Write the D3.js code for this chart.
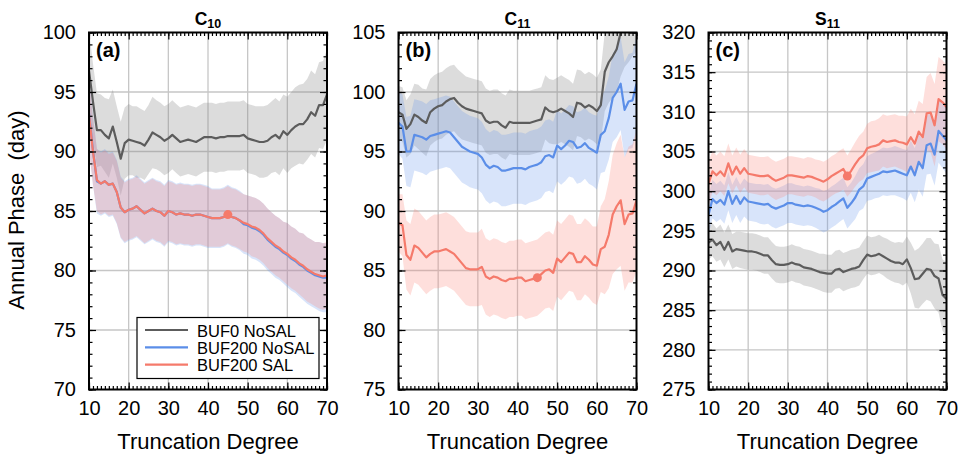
<!DOCTYPE html>
<html>
<head>
<meta charset="utf-8">
<script src="https://cdn.jsdelivr.net/npm/d3@7"></script>
<style>
body { margin: 0; background: #fff; }
text { font-family: "Liberation Sans", Arial, sans-serif; }
</style>
</head>
<body>
<svg id="chart" width="962" height="459"></svg>
<script>
// truncation degrees 10..70
var degrees = d3.range(10, 71);
var xTicks = [10, 20, 30, 40, 50, 60, 70];

// C10 panel
var c10Gray = [96.8, 94.2, 91.8, 91.8, 91.4, 91.1, 92.1, 90.8, 89.4, 90.7,
    91.0, 90.9, 90.8, 90.7, 90.5, 91.0, 91.6, 91.4, 91.2, 90.9,
    91.1, 91.4, 91.1, 90.8, 90.9, 91.0, 90.9, 90.8, 91.0, 91.2,
    91.2, 91.2, 91.1, 91.2, 91.2, 91.3, 91.3, 91.3, 91.3, 91.4,
    91.1, 91.0, 90.9, 90.8, 90.8, 90.9, 91.2, 91.4, 91.1, 91.7,
    91.4, 91.8, 92.1, 92.3, 92.3, 92.7, 93.3, 93.0, 93.9, 93.9, 94.8];
var c10GraySd = [3.4, 3.2, 3.1, 3.0, 3.1, 3.3, 3.1, 3.0, 3.1, 3.0,
    3.0, 2.9, 3.0, 2.9, 2.9, 2.9, 3.0, 2.9, 2.9, 2.9,
    2.9, 2.9, 2.9, 2.9, 2.9, 2.9, 2.9, 2.9, 2.9, 2.9,
    2.9, 2.9, 2.9, 2.9, 2.9, 2.9, 2.9, 2.9, 2.9, 2.9,
    2.9, 2.9, 2.9, 3.0, 3.0, 3.0, 3.0, 3.1, 3.1, 3.1,
    3.2, 3.2, 3.3, 3.3, 3.4, 3.4, 3.5, 3.5, 3.6, 3.7, 3.8];
var c10Blue = [93.2, 90.1, 87.5, 87.3, 87.5, 87.2, 87.3, 86.6, 85.3, 84.9,
    85.1, 85.2, 85.4, 85.1, 84.8, 85.0, 85.2, 85.0, 84.9, 84.6,
    85.0, 84.9, 84.7, 84.8, 84.7, 84.7, 84.6, 84.7, 84.7, 84.6,
    84.5, 84.4, 84.4, 84.4, 84.5, 84.7, 84.5, 84.4, 84.2, 83.9,
    83.8, 83.6, 83.5, 83.3, 83.0, 82.6, 82.3, 82.0, 81.8, 81.5,
    81.3, 81.0, 80.8, 80.5, 80.3, 80.0, 79.8, 79.6, 79.5, 79.4, 79.4];
var c10BlueSd = [3.1, 2.9, 2.7, 2.7, 2.7, 2.7, 2.7, 2.7, 2.6, 2.6,
    2.6, 2.6, 2.6, 2.6, 2.6, 2.6, 2.6, 2.6, 2.6, 2.6,
    2.6, 2.6, 2.6, 2.6, 2.6, 2.6, 2.6, 2.6, 2.6, 2.6,
    2.6, 2.5, 2.5, 2.5, 2.5, 2.5, 2.5, 2.5, 2.5, 2.5,
    2.5, 2.6, 2.6, 2.6, 2.6, 2.6, 2.6, 2.6, 2.6, 2.6,
    2.7, 2.7, 2.7, 2.7, 2.8, 2.8, 2.8, 2.8, 2.9, 2.9, 2.9];
var c10Red = [93.1, 90.0, 87.6, 87.3, 87.5, 87.2, 87.3, 86.6, 85.3, 84.9,
    85.1, 85.2, 85.4, 85.1, 84.8, 85.0, 85.2, 85.0, 84.9, 84.6,
    85.0, 84.9, 84.7, 84.8, 84.7, 84.7, 84.6, 84.7, 84.7, 84.6,
    84.5, 84.4, 84.4, 84.4, 84.5, 84.7, 84.5, 84.4, 84.2, 84.0,
    83.9, 83.7, 83.6, 83.4, 83.1, 82.7, 82.4, 82.1, 81.9, 81.6,
    81.4, 81.1, 80.9, 80.6, 80.4, 80.1, 79.9, 79.7, 79.6, 79.5, 79.6];
var c10RedSd = [3.0, 2.8, 2.6, 2.6, 2.6, 2.6, 2.6, 2.6, 2.5, 2.5,
    2.5, 2.5, 2.5, 2.5, 2.5, 2.5, 2.5, 2.5, 2.5, 2.5,
    2.5, 2.5, 2.5, 2.5, 2.5, 2.5, 2.5, 2.5, 2.5, 2.5,
    2.5, 2.4, 2.4, 2.4, 2.4, 2.4, 2.4, 2.4, 2.4, 2.4,
    2.4, 2.5, 2.5, 2.5, 2.5, 2.5, 2.5, 2.5, 2.5, 2.5,
    2.6, 2.6, 2.6, 2.6, 2.7, 2.7, 2.7, 2.7, 2.8, 2.8, 2.8];

// C11 panel
var c11Gray = [98.3, 98.1, 96.9, 97.3, 98.1, 97.9, 97.6, 97.4, 98.3, 98.6,
    98.8, 98.9, 99.2, 99.4, 99.5, 99.1, 98.8, 98.6, 98.5, 98.4,
    98.3, 98.2, 97.6, 97.4, 97.5, 97.5, 97.2, 97.0, 97.5, 97.4,
    97.4, 97.4, 97.4, 97.4, 97.5, 97.6, 97.7, 98.7, 98.4, 98.3,
    98.4, 98.6, 98.4, 98.2, 97.9, 99.1, 99.0, 98.7, 98.9, 98.7,
    98.4, 98.9, 101.7, 102.5, 103.0, 103.6, 105.0, 105.8, 106.3, 106.8, 107.2];
var c11GraySd = [2.2, 2.3, 2.4, 2.5, 2.6, 2.7, 2.7, 2.8, 2.8, 2.8,
    2.8, 2.8, 2.8, 2.8, 2.8, 2.8, 2.8, 2.7, 2.7, 2.7,
    2.7, 2.7, 2.7, 2.7, 2.7, 2.7, 2.7, 2.7, 2.7, 2.7,
    2.7, 2.7, 2.7, 2.7, 2.7, 2.7, 2.7, 2.7, 2.7, 2.7,
    2.8, 2.8, 2.8, 2.8, 2.8, 2.8, 2.8, 2.8, 2.8, 2.8,
    2.8, 3.0, 3.3, 3.4, 3.5, 3.6, 3.7, 3.7, 3.8, 3.8, 3.8];
var c11Blue = [97.4, 97.1, 95.0, 95.0, 96.4, 96.3, 96.2, 96.0, 96.3, 96.4,
    96.5, 96.6, 96.7, 96.6, 96.2, 95.8, 95.4, 95.2, 95.0, 94.9,
    94.8, 94.5, 93.9, 93.6, 93.8, 93.7, 93.4, 93.4, 93.5, 93.6,
    93.6, 93.6, 93.5, 93.7, 93.8, 93.9, 94.1, 94.6, 94.7, 94.5,
    95.5, 95.2, 95.5, 95.9, 95.8, 95.3, 95.4, 95.7, 95.3, 95.1,
    94.9, 96.4, 96.7, 97.8, 99.5, 100.0, 100.7, 98.5, 99.2, 99.3, 100.7];
var c11BlueSd = [2.6, 2.7, 2.9, 3.0, 3.0, 3.0, 3.0, 3.0, 3.0, 3.0,
    3.0, 3.0, 3.0, 3.0, 3.0, 3.0, 3.0, 3.0, 3.0, 3.0,
    3.0, 3.0, 3.0, 3.0, 3.0, 3.0, 3.0, 3.0, 3.0, 3.0,
    3.0, 3.0, 3.0, 3.0, 3.0, 3.0, 3.0, 3.0, 3.0, 3.0,
    3.0, 3.0, 3.0, 3.0, 3.0, 3.0, 3.0, 3.0, 3.0, 3.0,
    3.1, 3.2, 3.4, 3.5, 3.7, 3.8, 3.9, 4.0, 4.0, 4.0, 4.0];
var c11Red = [89.0, 88.8, 86.3, 85.9, 87.1, 86.9, 86.5, 86.1, 86.4, 86.6,
    86.6, 86.7, 86.8, 86.6, 86.4, 86.0, 85.6, 85.2, 85.1, 85.1,
    85.1, 85.3, 84.5, 84.3, 84.5, 84.4, 84.2, 84.1, 84.3, 84.3,
    84.4, 84.4, 84.1, 84.2, 84.3, 84.4, 84.7, 85.0, 85.1, 84.8,
    86.0, 85.7, 86.1, 86.5, 86.4, 85.7, 85.7, 86.2, 85.9, 85.5,
    85.4, 86.8, 87.0, 88.0, 89.7, 90.4, 90.9, 88.9, 89.7, 89.8, 90.9];
var c11RedSd = [2.4, 2.6, 2.9, 3.0, 3.1, 3.1, 3.1, 3.1, 3.1, 3.1,
    3.1, 3.1, 3.1, 3.1, 3.1, 3.1, 3.1, 3.1, 3.1, 3.1,
    3.1, 3.2, 3.2, 3.2, 3.2, 3.2, 3.2, 3.2, 3.2, 3.2,
    3.2, 3.2, 3.2, 3.2, 3.2, 3.2, 3.2, 3.2, 3.2, 3.2,
    3.2, 3.2, 3.2, 3.2, 3.2, 3.2, 3.2, 3.2, 3.2, 3.2,
    3.3, 3.6, 4.0, 4.5, 5.0, 5.3, 5.5, 5.6, 5.7, 5.8, 5.9];

// S11 panel
var s11Gray = [293.5, 293.9, 293.2, 293.6, 292.6, 293.6, 292.4, 292.7, 292.6, 292.5,
    292.4, 292.4, 292.3, 292.1, 291.9, 291.9, 291.3, 290.8, 290.7, 290.7,
    290.8, 291.0, 290.8, 290.7, 290.4, 290.3, 290.2, 290.0, 289.8, 289.7,
    289.6, 289.6, 290.1, 290.2, 289.8, 290.0, 290.2, 290.3, 290.5, 291.3,
    292.0, 291.8, 291.9, 292.1, 291.8, 291.5, 291.2, 291.0, 291.0, 290.8,
    291.4, 290.3, 288.9, 289.0, 289.6, 290.2, 290.1, 289.3, 289.0, 286.9, 286.4];
var s11GraySd = [2.1, 2.1, 2.1, 2.2, 2.2, 2.2, 2.2, 2.2, 2.3, 2.3,
    2.3, 2.3, 2.3, 2.3, 2.3, 2.3, 2.3, 2.3, 2.3, 2.3,
    2.3, 2.3, 2.3, 2.3, 2.3, 2.3, 2.3, 2.3, 2.3, 2.4,
    2.4, 2.4, 2.4, 2.4, 2.4, 2.4, 2.4, 2.4, 2.4, 2.4,
    2.4, 2.4, 2.4, 2.4, 2.4, 2.5, 2.5, 2.5, 2.6, 2.7,
    2.9, 3.2, 3.6, 3.8, 3.8, 3.9, 4.0, 4.1, 4.3, 4.5, 4.7];
var s11Blue = [297.0, 299.0, 298.5, 298.9, 298.3, 300.0, 298.4, 299.4, 298.4, 299.2,
    298.7, 298.6, 298.5, 298.4, 298.3, 298.4, 298.0, 297.8, 298.0, 298.2,
    298.5, 298.5, 298.3, 298.2, 298.1, 298.2, 298.1, 297.9, 297.7, 297.4,
    297.6, 298.0, 298.3, 298.7, 299.1, 297.9, 298.5, 299.2, 300.2, 300.6,
    301.6, 301.8, 302.0, 302.2, 302.5, 302.4, 302.5, 302.6, 302.4, 302.2,
    302.0, 303.1, 302.0, 303.7, 302.9, 305.8, 306.0, 304.6, 307.6, 307.0, 306.4];
var s11BlueSd = [2.5, 2.4, 2.4, 2.4, 2.4, 2.4, 2.4, 2.4, 2.4, 2.4,
    2.4, 2.4, 2.4, 2.5, 2.5, 2.5, 2.5, 2.5, 2.5, 2.5,
    2.5, 2.5, 2.5, 2.5, 2.5, 2.5, 2.5, 2.5, 2.6, 2.6,
    2.6, 2.6, 2.6, 2.6, 2.6, 2.6, 2.6, 2.7, 2.7, 2.8,
    2.8, 2.9, 2.9, 3.0, 3.0, 3.0, 3.0, 3.1, 3.1, 3.1,
    3.2, 3.3, 3.4, 3.5, 3.6, 3.7, 3.8, 3.9, 4.0, 4.1, 4.2];
var s11Red = [300.9, 302.5, 302.0, 302.5, 301.9, 303.5, 302.1, 303.1, 302.2, 302.9,
    302.2, 302.1, 302.0, 301.9, 301.9, 302.0, 301.6, 301.3, 301.5, 301.7,
    302.0, 302.0, 301.9, 301.8, 301.7, 301.9, 301.8, 301.6, 301.4, 301.2,
    301.5, 301.9, 302.2, 302.5, 302.8, 301.9, 302.6, 303.4, 304.1, 304.5,
    305.4, 305.6, 305.7, 305.9, 306.4, 306.2, 306.3, 306.4, 306.2, 306.1,
    305.9, 306.8, 306.0, 307.5, 306.8, 309.8, 309.9, 308.3, 311.6, 311.2, 310.6];
var s11RedSd = [2.8, 2.6, 2.5, 2.5, 2.5, 2.5, 2.4, 2.4, 2.4, 2.4,
    2.4, 2.4, 2.4, 2.4, 2.4, 2.4, 2.4, 2.4, 2.4, 2.4,
    2.4, 2.4, 2.4, 2.4, 2.4, 2.4, 2.4, 2.4, 2.5, 2.5,
    2.5, 2.5, 2.5, 2.6, 2.6, 2.6, 2.7, 2.8, 2.9, 3.0,
    3.1, 3.2, 3.2, 3.3, 3.3, 3.3, 3.3, 3.3, 3.3, 3.4,
    3.5, 3.6, 3.7, 3.9, 4.2, 4.6, 5.0, 5.2, 5.3, 5.3, 5.3];

var markDegree = 45;
var legendNames = ["BUF0 NoSAL", "BUF200 NoSAL", "BUF200 SAL"];

var colGray = "#5c5c5c", colBlue = "#5b8ee8", colRed = "#f57a6b";
var bandGray = "rgba(128,128,128,0.28)",
    bandBlue = "rgba(100,149,237,0.25)",
    bandRed = "rgba(250,128,114,0.25)";

var plotTop = 32.5, width = 238, height = 357;

var panels = [
    {label: "(a)", name: "C", sub: "10", left: 89, domain: [70, 100], yTicks: [70, 75, 80, 85, 90, 95, 100],
        series: [[c10Gray, c10GraySd], [c10Blue, c10BlueSd], [c10Red, c10RedSd]], legend: true},
    {label: "(b)", name: "C", sub: "11", left: 398.5, domain: [75, 105], yTicks: [75, 80, 85, 90, 95, 100, 105],
        series: [[c11Gray, c11GraySd], [c11Blue, c11BlueSd], [c11Red, c11RedSd]], legend: false},
    {label: "(c)", name: "S", sub: "11", left: 708.5, domain: [275, 320], yTicks: [275, 280, 285, 290, 295, 300, 305, 310, 315, 320],
        series: [[s11Gray, s11GraySd], [s11Blue, s11BlueSd], [s11Red, s11RedSd]], legend: false}
];

var svg = d3.select("#chart");

panels.forEach(function (p, i) {
    drawPanel(p, i);
});

// y label
svg.append("text")
    .attr("transform", "translate(24,210) rotate(-90)")
    .attr("text-anchor", "middle")
    .attr("font-size", 22)
    .style("white-space", "pre")
    .text("Annual Phase  (day)");

function drawPanel(p, i) {
    var x = d3.scaleLinear().domain([10, 70]).range([0, width]);
    var y = d3.scaleLinear().domain(p.domain).range([height, 0]);

    var g = svg.append("g")
        .attr("transform", "translate(" + p.left + "," + plotTop + ")");

    g.append("clipPath").attr("id", "clip" + i)
        .append("rect").attr("width", width).attr("height", height);

    // grid
    g.append("g").selectAll("line").data(xTicks.slice(1, -1)).enter().append("line")
        .attr("x1", function (d) { return x(d); }).attr("x2", function (d) { return x(d); })
        .attr("y1", 0).attr("y2", height)
        .attr("stroke", "#c6c6c6").attr("stroke-width", 1.3);
    g.append("g").selectAll("line").data(p.yTicks.slice(1, -1)).enter().append("line")
        .attr("y1", function (d) { return y(d); }).attr("y2", function (d) { return y(d); })
        .attr("x1", 0).attr("x2", width)
        .attr("stroke", "#c6c6c6").attr("stroke-width", 1.3);

    var plot = g.append("g").attr("clip-path", "url(#clip" + i + ")");
    var bands = [bandGray, bandBlue, bandRed];
    var cols = [colGray, colBlue, colRed];

    p.series.forEach(function (s, k) {
        var area = d3.area()
            .x(function (d, j) { return x(degrees[j]); })
            .y0(function (d, j) { return y(d - s[1][j]); })
            .y1(function (d, j) { return y(d + s[1][j]); });
        plot.append("path").datum(s[0])
            .attr("d", area)
            .attr("fill", bands[k]);
    });

    p.series.forEach(function (s, k) {
        var line = d3.line()
            .x(function (d, j) { return x(degrees[j]); })
            .y(function (d) { return y(d); });
        plot.append("path").datum(s[0])
            .attr("d", line)
            .attr("fill", "none")
            .attr("stroke", cols[k])
            .attr("stroke-width", 2.2)
            .attr("stroke-linejoin", "round");
    });

    // marker on the SAL curve
    var redVals = p.series[2][0];
    plot.append("circle")
        .attr("cx", x(markDegree))
        .attr("cy", y(redVals[degrees.indexOf(markDegree)]))
        .attr("r", 4.5)
        .attr("fill", colRed);

    // axes with inward ticks
    var minorX = degrees;
    var minorY = d3.range(p.domain[0], p.domain[1] + 1);

    g.append("g").attr("transform", "translate(0," + height + ")")
        .call(d3.axisBottom(x).tickValues(minorX).tickSize(-3.5).tickFormat(""));
    var bottomMajor = g.append("g").attr("transform", "translate(0," + height + ")")
        .call(d3.axisBottom(x).tickValues(xTicks).tickSize(-7).tickPadding(11));
    bottomMajor.selectAll("text").attr("font-size", 20).attr("font-family", "Liberation Sans, Arial, sans-serif").attr("fill", "#000");

    g.append("g").call(d3.axisTop(x).tickValues(minorX).tickSize(-3.5).tickFormat(""));
    g.append("g").call(d3.axisTop(x).tickValues(xTicks).tickSize(-7).tickFormat(""));

    g.append("g").call(d3.axisLeft(y).tickValues(minorY).tickSize(-3.5).tickFormat(""));
    var leftMajor = g.append("g")
        .call(d3.axisLeft(y).tickValues(p.yTicks).tickSize(-7).tickPadding(13));
    leftMajor.selectAll("text").attr("font-size", 20).attr("font-family", "Liberation Sans, Arial, sans-serif").attr("fill", "#000");

    g.append("g").attr("transform", "translate(" + width + ",0)")
        .call(d3.axisRight(y).tickValues(minorY).tickSize(-3.5).tickFormat(""));
    g.append("g").attr("transform", "translate(" + width + ",0)")
        .call(d3.axisRight(y).tickValues(p.yTicks).tickSize(-7).tickFormat(""));

    g.selectAll(".domain").remove();
    g.selectAll(".tick line").attr("stroke", "#000").attr("stroke-width", 1.2);

    g.append("rect")
        .attr("width", width).attr("height", height)
        .attr("fill", "none").attr("stroke", "#000").attr("stroke-width", 2);

    // panel label and title
    g.append("text")
        .attr("x", 7).attr("y", 24)
        .attr("font-size", 20).attr("font-weight", "bold")
        .text(p.label);

    var title = g.append("text")
        .attr("x", width / 2).attr("y", -8)
        .attr("text-anchor", "middle")
        .attr("font-size", 17.5).attr("font-weight", "bold");
    title.append("tspan").text(p.name);
    title.append("tspan").attr("font-size", 12.5).attr("dy", 3).text(p.sub);

    g.append("text")
        .attr("x", width / 2).attr("y", height + 59)
        .attr("text-anchor", "middle")
        .attr("font-size", 22)
        .text("Truncation Degree");

    if (p.legend) drawLegend(g, cols);
}

function drawLegend(g, cols) {
    var lg = g.append("g").attr("transform", "translate(48,285)");
    lg.append("rect")
        .attr("width", 182).attr("height", 61)
        .attr("fill", "#fff").attr("stroke", "#000").attr("stroke-width", 1.2);
    legendNames.forEach(function (name, k) {
        var yy = 12.5 + k * 17.3;
        lg.append("line")
            .attr("x1", 8).attr("x2", 51).attr("y1", yy).attr("y2", yy)
            .attr("stroke", cols[k]).attr("stroke-width", 2.2);
        lg.append("text")
            .attr("x", 60).attr("y", yy + 6.5)
            .attr("font-size", 16.5)
            .text(name);
    });
}
</script>
</body>
</html>
